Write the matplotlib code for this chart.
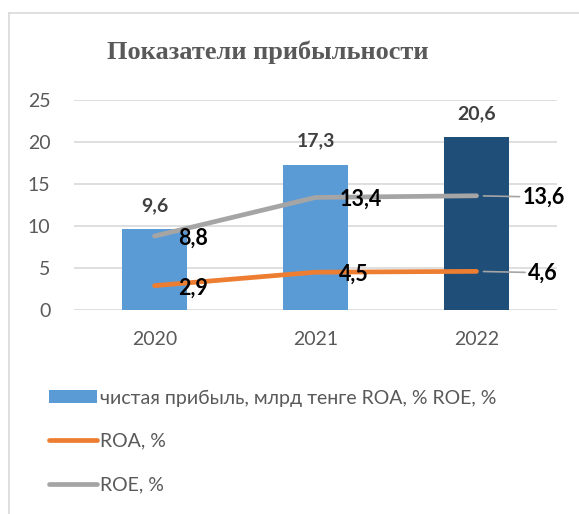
import matplotlib
matplotlib.use("Agg")
import matplotlib.pyplot as plt
from matplotlib.lines import Line2D

years = ["2020", "2021", "2022"]
profit = [9.6, 17.3, 20.6]
roa = [2.9, 4.5, 4.6]
roe = [8.8, 13.4, 13.6]
profit_labels = ["9,6", "17,3", "20,6"]
roa_labels = ["2,9", "4,5", "4,6"]
roe_labels = ["8,8", "13,4", "13,6"]
yticks = [0, 5, 10, 15, 20, 25]
title = "Показатели прибыльности"
legend_labels = ["чистая прибыль, млрд тенге ROA, % ROE, %", "ROA, %", "ROE, %"]

plt.rcParams['font.family'] = ['Lato', 'DejaVu Sans']

W, H = 579, 514
fig = plt.figure(figsize=(W / 100, H / 100), dpi=100)
fig.patch.set_facecolor('white')

# outer frame (left and top visible)
fig.add_artist(Line2D([9 / W, 9 / W], [0, 1 - 13 / H], transform=fig.transFigure,
                      color='#D9D9D9', lw=1.2))
fig.add_artist(Line2D([9 / W, 1], [1 - 13 / H, 1 - 13 / H], transform=fig.transFigure,
                      color='#D9D9D9', lw=1.2))

ax = fig.add_axes([74 / W, 1 - 310 / H, (557 - 74) / W, (310 - 100) / H])
x = list(range(len(years)))
bar_colors = ['#5B9BD5', '#5B9BD5', '#1F4E79']
bars = ax.bar(x, profit, width=0.4, color=bar_colors, zorder=2)
l_roa, = ax.plot(x, roa, color='#ED7D31', lw=3.4, solid_capstyle='round', zorder=3)
l_roe, = ax.plot(x, roe, color='#A5A5A5', lw=3.4, solid_capstyle='round', zorder=3)

ax.set_xlim(-0.5, 2.5)
ax.set_ylim(0, 25)
ax.set_yticks(yticks)
ax.set_yticklabels([str(v) for v in yticks])
ax.set_xticks(x)
ax.set_xticklabels(years)
ax.yaxis.grid(True, color='#D9D9D9', lw=1.2, zorder=0)
ax.set_axisbelow(True)
for s in ax.spines.values():
    s.set_visible(False)
ax.tick_params(axis='both', length=0, labelsize=14, colors='#595959')
ax.tick_params(axis='y', pad=17)
ax.tick_params(axis='x', pad=15)

for xi, v, lab in zip(x, profit, profit_labels):
    ax.annotate(lab, (xi, v), xytext=(0, 17), textcoords='offset points',
                ha='center', va='center', fontsize=14, fontweight='bold', color='#404040')

for vals, labs in ((roa, roa_labels), (roe, roe_labels)):
    for i, (xi, v, lab) in enumerate(zip(x, vals, labs)):
        if i < 2:
            ax.annotate(lab, (xi, v), xytext=(17, -1.5), textcoords='offset points',
                        ha='left', va='center', fontsize=15.5, fontweight='bold', color='black')
        else:
            dx = 33 if lab == roe_labels[2] else 37
            ax.annotate(lab, (xi, v), xytext=(dx, -1), textcoords='offset points',
                        ha='left', va='center', fontsize=15.5, fontweight='bold', color='black',
                        arrowprops=dict(arrowstyle='-', color='#A5A5A5', lw=1.2,
                                        shrinkA=0, shrinkB=5))

fig.text(268 / W, 1 - 52 / H, title, ha='center', va='center', fontsize=19,
         fontweight='bold', color='#595959', family=['Liberation Serif', 'DejaVu Serif'])

leg = fig.legend([bars, l_roa, l_roe], legend_labels, loc='upper left',
                 bbox_to_anchor=(31 / W, 1 - 372 / H), frameon=False,
                 fontsize=14, labelcolor='#595959', handlelength=2.47,
                 handleheight=0.62, handletextpad=0.2, labelspacing=1.35)
for h in leg.legend_handles[1:]:
    h.set_linewidth(3.4)

fig.savefig('out.png', dpi=100, facecolor='white')
